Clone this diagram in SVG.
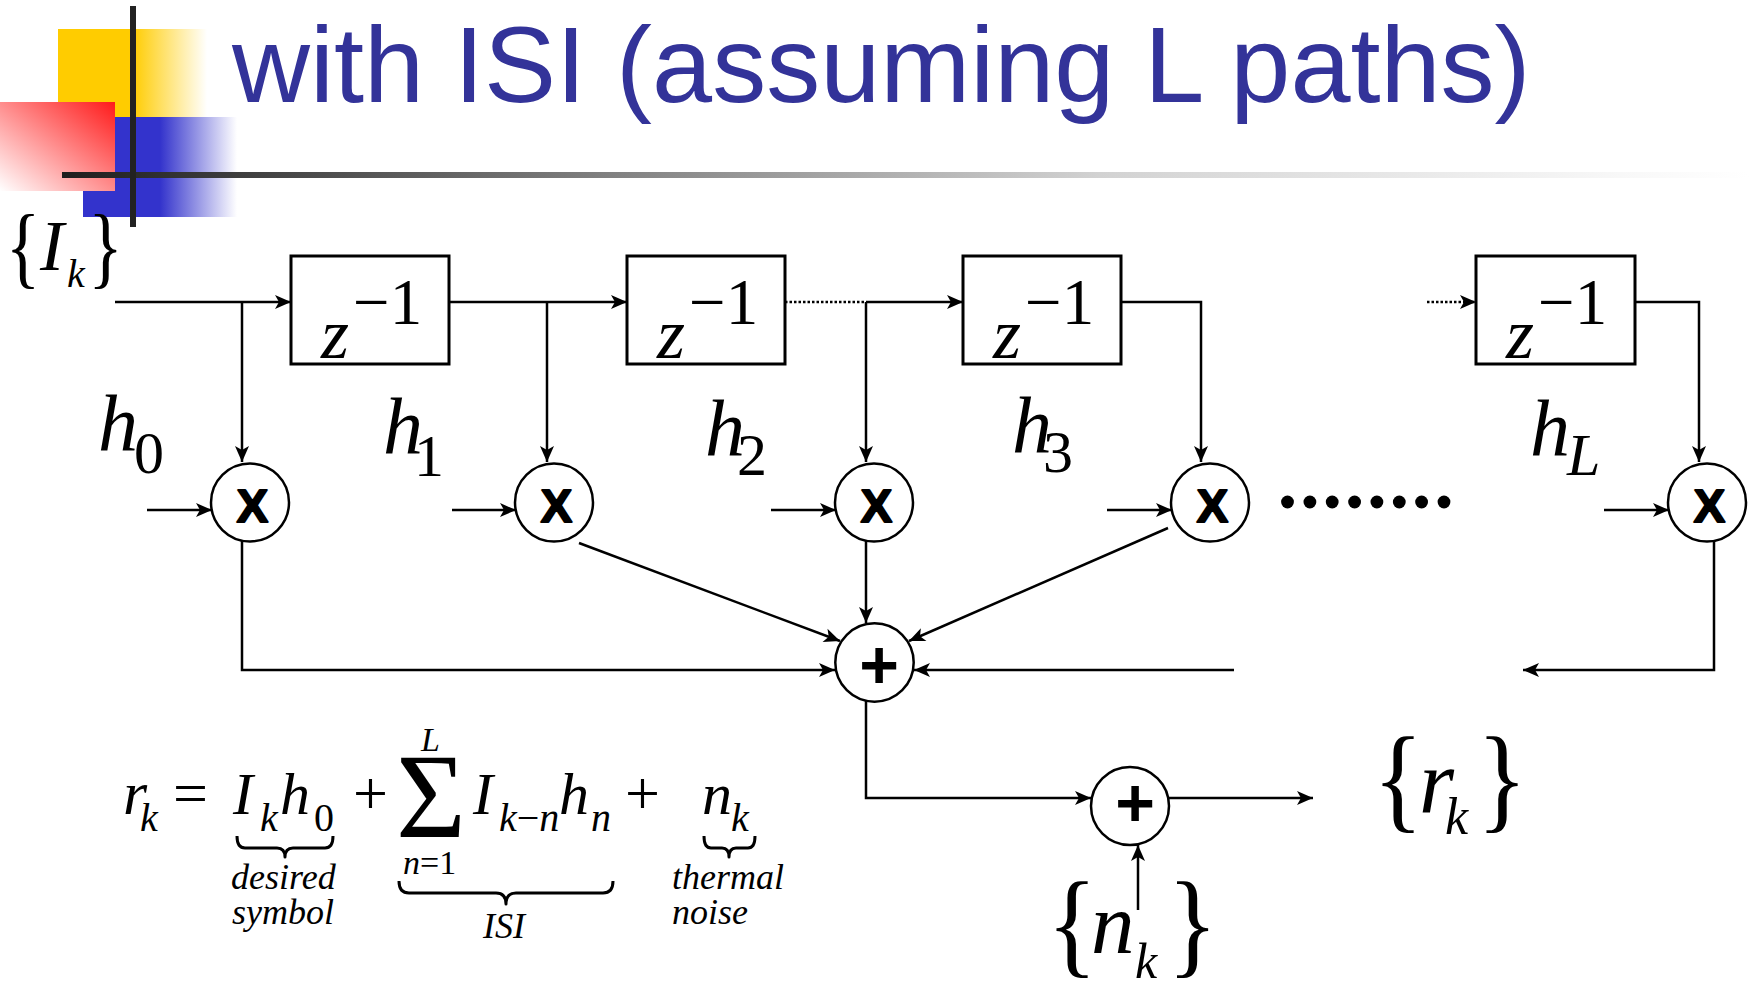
<svg xmlns="http://www.w3.org/2000/svg" width="1749" height="983" viewBox="0 0 1749 983">
  <defs>
    <linearGradient id="gYellow" x1="0" y1="0" x2="1" y2="0">
      <stop offset="0" stop-color="#FFCC00"/>
      <stop offset="0.5" stop-color="#FFCC00"/>
      <stop offset="1" stop-color="#FFFFFF"/>
    </linearGradient>
    <linearGradient id="gBlue" x1="0" y1="0" x2="1" y2="0">
      <stop offset="0" stop-color="#3333CC"/>
      <stop offset="0.5" stop-color="#3333CC"/>
      <stop offset="1" stop-color="#FFFFFF"/>
    </linearGradient>
    <linearGradient id="gRed" x1="1" y1="0" x2="0" y2="1">
      <stop offset="0" stop-color="#FF1A1A"/>
      <stop offset="1" stop-color="#FFFFFF"/>
    </linearGradient>
    <linearGradient id="gRule" gradientUnits="userSpaceOnUse" x1="62" y1="0" x2="1749" y2="0">
      <stop offset="0" stop-color="#1E1E1E"/>
      <stop offset="0.32" stop-color="#7F7F7F"/>
      <stop offset="0.615" stop-color="#D2D2D2"/>
      <stop offset="0.924" stop-color="#F8F8F8"/>
      <stop offset="1" stop-color="#FFFFFF"/>
    </linearGradient>
    <marker id="ah" viewBox="-17 -8 18 16" refX="0" refY="0" markerWidth="18" markerHeight="16" markerUnits="userSpaceOnUse" orient="auto">
      <path d="M0,0 L-16,-7 L-12,0 L-16,7 Z" fill="#000"/>
    </marker>
  </defs>
  <style>
    .ln { fill: none; stroke: #000; stroke-width: 2.5; }
    .arr { marker-end: url(#ah); }
    .dotted { stroke-dasharray: 2.5 2; }
    .box { fill: #fff; stroke: #000; stroke-width: 3; }
    .node { fill: #fff; stroke: #000; stroke-width: 2.5; }
    .it { font-family: "Liberation Serif", "Times New Roman", serif; font-style: italic; fill: #000; }
    .rm { font-family: "Liberation Serif", "Times New Roman", serif; font-style: normal; fill: #000; }
    .op { font-family: "Liberation Sans", Arial, sans-serif; font-weight: bold; fill: #000; text-anchor: middle; }
    .mul { stroke: #000; stroke-width: 2; stroke-linejoin: round; }
    .brace { fill: none; stroke: #000; stroke-width: 3; stroke-linejoin: round; }
    .title { font-family: "Liberation Sans", Arial, sans-serif; font-size: 108px; fill: #333399; }
  </style>

  <rect width="1749" height="983" fill="#fff"/>

  <!-- slide header ornament -->
  <g id="header">
    <rect x="58" y="29" width="149" height="88" fill="url(#gYellow)"/>
    <rect x="83" y="117" width="154" height="100" fill="url(#gBlue)"/>
    <rect x="0" y="102" width="115" height="89" fill="url(#gRed)"/>
    <rect x="62" y="172" width="1687" height="6" fill="url(#gRule)"/>
    <rect x="130" y="6" width="6" height="221" fill="#222"/>
    <text class="title" x="232" y="102">with ISI (assuming L paths)</text>
  </g>

  <!-- connectors -->
  <g id="connectors">
    <path class="ln arr" d="M115,302 H291"/>
    <path class="ln arr" d="M242,302 V462"/>
    <path class="ln arr" d="M449,302 H627"/>
    <path class="ln arr" d="M547,302 V462"/>
    <path class="ln dotted" d="M785,302 H866"/>
    <path class="ln arr" d="M866,302 H963"/>
    <path class="ln arr" d="M866,302 V462"/>
    <path class="ln arr" d="M1121,302 H1201 V462"/>
    <path class="ln dotted arr" d="M1427,302 H1476"/>
    <path class="ln arr" d="M1635,302 H1699 V462"/>

    <path class="ln arr" d="M147,510 H212"/>
    <path class="ln arr" d="M452,510 H516"/>
    <path class="ln arr" d="M771,510 H836"/>
    <path class="ln arr" d="M1107,510 H1172"/>
    <path class="ln arr" d="M1604,510 H1669"/>

    <path class="ln arr" d="M242,541 V670 H835"/>
    <path class="ln arr" d="M579,543 L840,641"/>
    <path class="ln arr" d="M866,541 V623"/>
    <path class="ln arr" d="M1168,528 L909,641"/>
    <path class="ln arr" d="M1714,541 V670 H1523"/>
    <path class="ln arr" d="M1234,670 H914"/>
    <path class="ln arr" d="M866,701 V798 H1091"/>
    <path class="ln arr" d="M1169,798 H1313"/>
    <path class="ln arr" d="M1138,910 V845"/>
  </g>

  <!-- input sequence -->
  <g id="input">
    <text class="rm" font-size="90" transform="translate(23,277) scale(0.8,1)" text-anchor="middle">{</text>
    <text class="it" font-size="72" x="40" y="270">I</text>
    <text class="it" font-size="40" x="67" y="287">k</text>
    <text class="rm" font-size="90" transform="translate(105.5,277) scale(0.8,1)" text-anchor="middle">}</text>
  </g>

  <!-- delay elements -->
  <g id="delay1">
    <rect class="box" x="291" y="256" width="158" height="108"/>
    <text class="it" font-size="72" x="321" y="358">z</text>
    <text class="rm" font-size="65" x="353" y="324">−1</text>
  </g>
  <g id="delay2">
    <rect class="box" x="627" y="256" width="158" height="108"/>
    <text class="it" font-size="72" x="657" y="358">z</text>
    <text class="rm" font-size="65" x="689" y="324">−1</text>
  </g>
  <g id="delay3">
    <rect class="box" x="963" y="256" width="158" height="108"/>
    <text class="it" font-size="72" x="993" y="358">z</text>
    <text class="rm" font-size="65" x="1025" y="324">−1</text>
  </g>
  <g id="delayL">
    <rect class="box" x="1476" y="256" width="159" height="108"/>
    <text class="it" font-size="72" x="1506" y="358">z</text>
    <text class="rm" font-size="65" x="1538" y="324">−1</text>
  </g>

  <!-- tap weights -->
  <g id="tap-labels">
    <text class="it" font-size="80" x="98" y="450">h</text>
    <text class="rm" font-size="60" x="134" y="473">0</text>
    <text class="it" font-size="80" x="383" y="453">h</text>
    <text class="rm" font-size="60" x="414" y="476">1</text>
    <text class="it" font-size="80" x="705" y="455">h</text>
    <text class="rm" font-size="60" x="737" y="475">2</text>
    <text class="it" font-size="80" x="1012" y="452">h</text>
    <text class="rm" font-size="60" x="1043" y="472">3</text>
    <text class="it" font-size="80" x="1530" y="455">h</text>
    <text class="it" font-size="60" x="1567" y="475">L</text>
  </g>

  <!-- multipliers -->
  <g id="mult0">
    <circle class="node" cx="250" cy="502.5" r="39"/>
    <text class="op mul" font-size="47" x="252.5" y="522">X</text>
  </g>
  <g id="mult1">
    <circle class="node" cx="554" cy="502.5" r="39"/>
    <text class="op mul" font-size="47" x="556.5" y="522">X</text>
  </g>
  <g id="mult2">
    <circle class="node" cx="874" cy="502.5" r="39"/>
    <text class="op mul" font-size="47" x="876.5" y="522">X</text>
  </g>
  <g id="mult3">
    <circle class="node" cx="1210" cy="502.5" r="39"/>
    <text class="op mul" font-size="47" x="1212.5" y="522">X</text>
  </g>
  <g id="multL">
    <circle class="node" cx="1707" cy="502.5" r="39"/>
    <text class="op mul" font-size="47" x="1709.5" y="522">X</text>
  </g>

  <!-- omitted taps -->
  <g id="ellipsis" fill="#000">
    <circle cx="1287.5" cy="502" r="6.4"/>
    <circle cx="1309.9" cy="502" r="6.4"/>
    <circle cx="1332.2" cy="502" r="6.4"/>
    <circle cx="1354.6" cy="502" r="6.4"/>
    <circle cx="1376.9" cy="502" r="6.4"/>
    <circle cx="1399.3" cy="502" r="6.4"/>
    <circle cx="1421.6" cy="502" r="6.4"/>
    <circle cx="1444" cy="502" r="6.4"/>
  </g>

  <!-- adders -->
  <g id="sum">
    <circle class="node" cx="874.5" cy="662.5" r="39.2"/>
    <text class="op" font-size="68" x="879" y="688">+</text>
  </g>
  <g id="noise-sum">
    <circle class="node" cx="1130" cy="806" r="39"/>
    <text class="op" font-size="68" x="1135" y="826">+</text>
  </g>

  <!-- output sequence -->
  <g id="output">
    <text class="rm" font-size="116" transform="translate(1398,817) scale(0.9,1)" text-anchor="middle">{</text>
    <text class="it" font-size="90" x="1419" y="812">r</text>
    <text class="it" font-size="52" x="1445" y="834">k</text>
    <text class="rm" font-size="116" transform="translate(1502,817) scale(0.9,1)" text-anchor="middle">}</text>
  </g>

  <!-- noise sequence -->
  <g id="noise">
    <text class="rm" font-size="116" transform="translate(1072,962) scale(0.9,1)" text-anchor="middle">{</text>
    <text class="it" font-size="87" x="1091" y="953">n</text>
    <text class="it" font-size="50" x="1135" y="978">k</text>
    <text class="rm" font-size="116" transform="translate(1192.5,962) scale(0.9,1)" text-anchor="middle">}</text>
  </g>

  <!-- received-signal equation -->
  <g id="equation">
    <text class="it" font-size="62" x="123" y="814">r</text>
    <text class="it" font-size="40" x="140" y="831">k</text>
    <text class="rm" font-size="62" x="173" y="814">=</text>
    <text class="it" font-size="60" x="233" y="814">I</text>
    <text class="it" font-size="40" x="260" y="831">k</text>
    <text class="it" font-size="60" x="280" y="814">h</text>
    <text class="rm" font-size="40" x="314" y="831">0</text>
    <text class="rm" font-size="62" x="353" y="814">+</text>
    <text class="rm" font-size="120" x="396" y="837">Σ</text>
    <text class="it" font-size="34" x="421" y="751">L</text>
    <text class="it" font-size="34" x="403" y="874">n<tspan class="rm">=1</tspan></text>
    <text class="it" font-size="60" x="473" y="814">I</text>
    <text class="it" font-size="40" x="499" y="831">k<tspan class="rm">−</tspan>n</text>
    <text class="it" font-size="60" x="559" y="814">h</text>
    <text class="it" font-size="40" x="591" y="831">n</text>
    <text class="rm" font-size="62" x="625" y="814">+</text>
    <text class="it" font-size="60" x="702" y="814">n</text>
    <text class="it" font-size="40" x="731" y="831">k</text>

    <path class="brace" d="M237,836 Q237,848 245,848 L277,848 Q285,848 285,857 Q285,848 293,848 L325,848 Q333,848 333,836"/>
    <path class="brace" d="M399,881 Q399,893 409,893 L496,893 Q506,893 506,904 Q506,893 516,893 L603,893 Q613,893 613,881"/>
    <path class="brace" d="M704,836 Q704,848 711,848 L722,848 Q729,848 729,857 Q729,848 736,848 L748,848 Q755,848 755,836"/>

    <text class="it" font-size="36" x="231" y="889">desired</text>
    <text class="it" font-size="36" x="232" y="924">symbol</text>
    <text class="it" font-size="36" x="483" y="938">ISI</text>
    <text class="it" font-size="36" x="672" y="889">thermal</text>
    <text class="it" font-size="36" x="672" y="924">noise</text>
  </g>
</svg>
